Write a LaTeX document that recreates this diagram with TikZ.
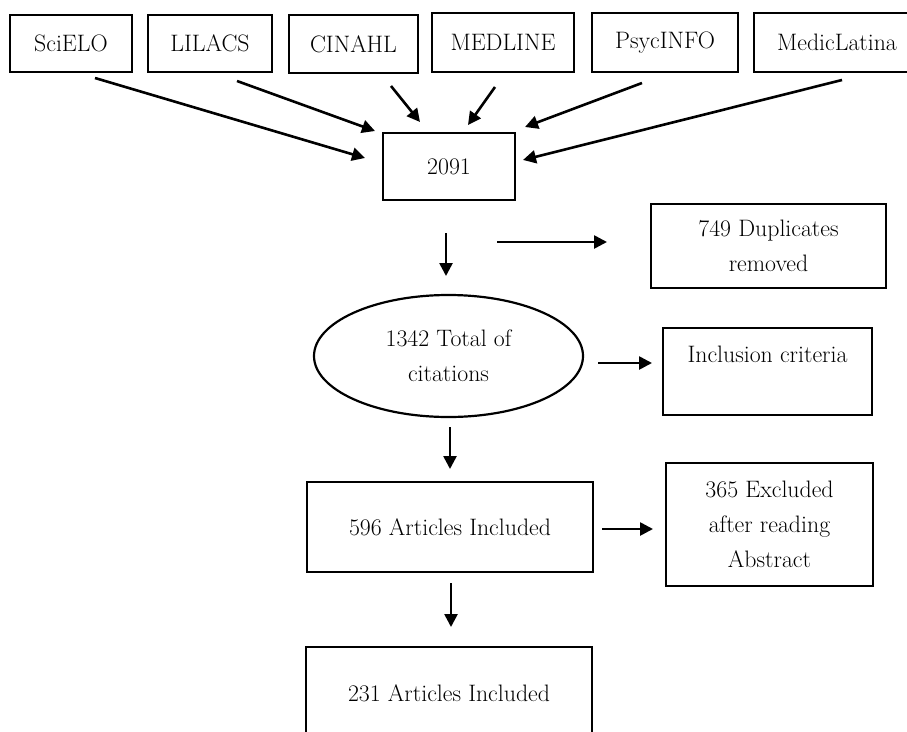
\documentclass[tikz,border=0pt]{standalone}
\usetikzlibrary{arrows.meta,shapes.geometric}
\begin{document}
\begin{tikzpicture}[x=1pt,y=-1pt,
  txt/.style={font=\fontsize{23.8}{35}\selectfont, align=center},
  box/.style={txt, draw, line width=2.8pt, rectangle, inner sep=0pt},
  oval/.style={txt, draw, line width=2.2pt, ellipse, inner sep=0pt},
  arr/.style={line width=2.6pt, -{Triangle[length=13pt,width=13pt]}}]
\useasboundingbox (0,0) rectangle (907,731);
\clip (0,0) rectangle (907,731);
% source boxes
\node[box, minimum width=122pt, minimum height=57pt] (scielo) at (71,43.5) {SciELO};
\node[box, minimum width=124pt, minimum height=57pt] (lilacs) at (210,43.5) {LILACS};
\node[box, minimum width=129pt, minimum height=58pt] (cinahl) at (353.5,44) {CINAHL};
\node[box, minimum width=142pt, minimum height=59pt] (medline) at (503,42.5) {MEDLINE};
\node[box, minimum width=146pt, minimum height=59pt] (psyc) at (665,42.5) {PsycINFO};
\node[box, minimum width=166pt, minimum height=59pt] (medic) at (837,42.5) {MedicLatina};
% flow
\node[box, minimum width=132pt, minimum height=67pt] (total) at (449,166.5) {2091};
\node[box, minimum width=235pt, minimum height=84pt] (dup) at (768.5,246) {749 Duplicates\\removed};
\node[oval, minimum width=269pt, minimum height=122pt] (cit) at (448.5,356) {1342 Total of\\citations};
\node[box, minimum width=209pt, minimum height=87pt] (incl) at (767.5,371.5) {Inclusion criteria\\~};
\node[box, minimum width=286pt, minimum height=90pt] (a596) at (450,527) {596 Articles Included};
\node[box, minimum width=207pt, minimum height=123pt] (excl) at (769.5,524.5) {365 Excluded\\after reading\\Abstract};
\node[box, minimum width=286pt, minimum height=92pt] (a231) at (449,693) {231 Articles Included};
% arrow end points
\coordinate (s1) at (95,78);   \coordinate (e1) at (365,158);
\coordinate (s2) at (237,81);  \coordinate (e2) at (375,131);
\coordinate (s3) at (391,86);  \coordinate (e3) at (420,122);
\coordinate (s4) at (495,87);  \coordinate (e4) at (468,125);
\coordinate (s5) at (642,83);  \coordinate (e5) at (525,127);
\coordinate (s6) at (842,80);  \coordinate (e6) at (523,160);
\coordinate (s7) at (446,233); \coordinate (e7) at (446,276);
\coordinate (s8) at (497,242); \coordinate (e8) at (607,242);
\coordinate (s9) at (598,363); \coordinate (e9) at (652,363);
\coordinate (s10) at (450,427); \coordinate (e10) at (450,469);
\coordinate (s11) at (602,529); \coordinate (e11) at (653,529);
\coordinate (s12) at (451,583); \coordinate (e12) at (451,627);
\draw[arr] (s1) -- (e1);
\draw[arr] (s2) -- (e2);
\draw[arr] (s3) -- (e3);
\draw[arr] (s4) -- (e4);
\draw[arr] (s5) -- (e5);
\draw[arr] (s6) -- (e6);
\draw[arr] (s7) -- (e7);
\draw[arr] (s8) -- (e8);
\draw[arr] (s9) -- (e9);
\draw[arr] (s10) -- (e10);
\draw[arr] (s11) -- (e11);
\draw[arr] (s12) -- (e12);
\end{tikzpicture}
\end{document}
